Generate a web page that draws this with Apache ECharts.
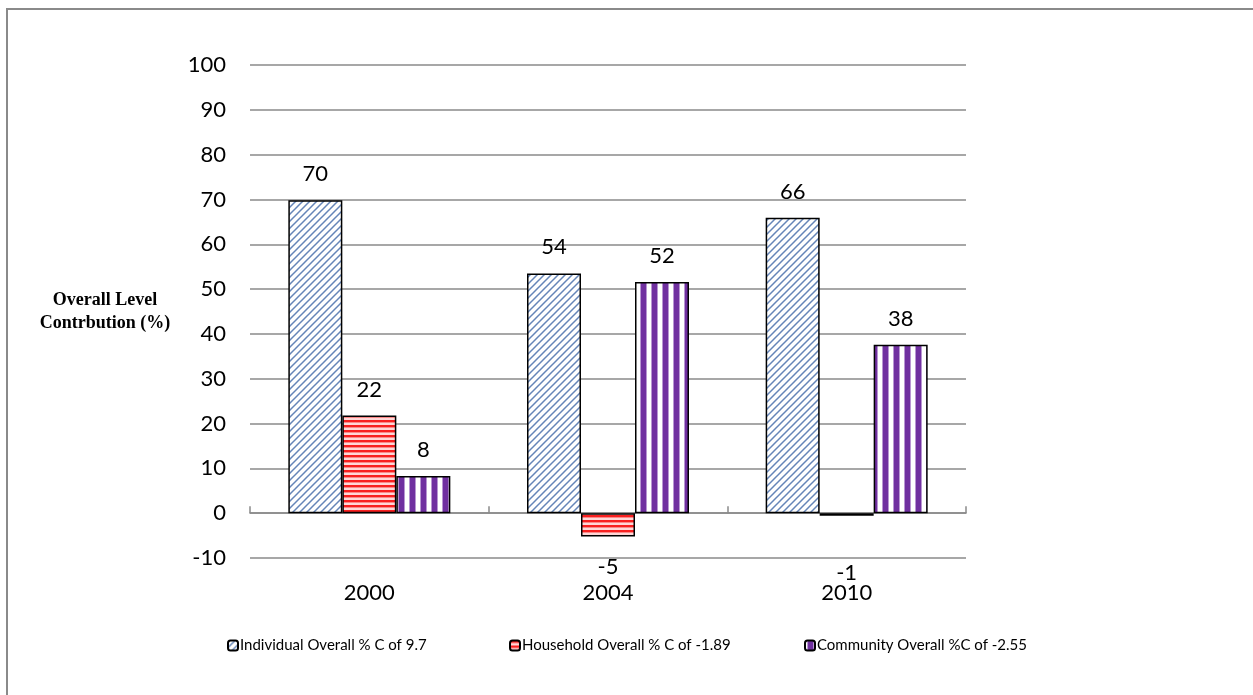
<!DOCTYPE html>
<html>
<head>
<meta charset="utf-8">
<script src="https://cdn.jsdelivr.net/npm/echarts@6/dist/echarts.min.js"></script>
<style>
  html, body { margin: 0; padding: 0; background: #ffffff; }
  #chart { width: 1253px; height: 695px; }
</style>
</head>
<body>
<div id="chart"></div>
<script>
// Survey years on the category axis
const years = ['2000', '2004', '2010'];

// Contribution (%) to the overall level by component
const individual = [69.8, 53.5, 65.9];
const household = [21.8, -5.2, -0.6];
const community = [8.3, 51.6, 37.6];

const seriesNames = [
  'Individual Overall % C of 9.7',
  'Household Overall % C of -1.89',
  'Community Overall %C of -2.55'
];

// Value axis ticks
const yTicks = [-10, 0, 10, 20, 30, 40, 50, 60, 70, 80, 90, 100];

// Fill textures: diagonal, horizontal and vertical stripes
function makeTile(w, h, draw) {
  const c = document.createElement('canvas');
  c.width = w; c.height = h;
  const ctx = c.getContext('2d');
  draw(ctx, w, h);
  return { image: c, repeat: 'repeat' };
}

const diagonalFill = makeTile(7, 7, function (ctx, s) {
  ctx.fillStyle = '#ffffff';
  ctx.fillRect(0, 0, s, s);
  ctx.strokeStyle = '#6585b8';
  ctx.lineWidth = 1.5;
  ctx.beginPath();
  ctx.moveTo(-1, 1); ctx.lineTo(1, -1);
  ctx.moveTo(0, s); ctx.lineTo(s, 0);
  ctx.moveTo(s - 1, s + 1); ctx.lineTo(s + 1, s - 1);
  ctx.stroke();
});

const horizontalFill = makeTile(4, 5, function (ctx, w, h) {
  ctx.fillStyle = '#ffd6d6';
  ctx.fillRect(0, 0, w, h);
  ctx.fillStyle = '#f82020';
  ctx.fillRect(0, 0, w, 2);
  ctx.fillStyle = '#fb8888';
  ctx.fillRect(0, 2, w, 1);
});

const verticalFill = makeTile(11, 4, function (ctx, w, h) {
  ctx.fillStyle = '#ffffff';
  ctx.fillRect(0, 0, w, h);
  ctx.fillStyle = '#b896d2';
  ctx.fillRect(2, 0, 1, h);
  ctx.fillRect(8, 0, 1, h);
  ctx.fillStyle = '#7030a0';
  ctx.fillRect(3, 0, 5, h);
});

const fills = [diagonalFill, horizontalFill, verticalFill];
const values = [individual, household, community];

const FONT = 'Lato, "Open Sans", sans-serif';
const GRID_COLOR = '#8a8a8a';

// Extra spacing for the small negative value's label
const labelDistance = { '1-2': 46 };

const series = values.map(function (vals, si) {
  return {
    name: seriesNames[si],
    type: 'bar',
    xAxisIndex: 0,
    yAxisIndex: 0,
    barWidth: 54,
    barGap: '0%',
    itemStyle: { color: fills[si], borderColor: '#000000', borderWidth: 1.5 },
    data: vals.map(function (v, ci) {
      const d = labelDistance[si + '-' + ci];
      return {
        value: v,
        label: {
          position: v < 0 ? 'bottom' : 'top',
          distance: d !== undefined ? d : (v < 0 ? 19 : 15)
        }
      };
    }),
    label: {
      show: true,
      fontFamily: FONT,
      fontSize: 22,
      color: '#000000',
      formatter: function (p) { return String(Math.round(p.value)); }
    }
  };
});

const legendLeft = [222, 504, 799];

const option = {
  backgroundColor: '#ffffff',
  animation: false,
  grid: { left: 250, right: 287, top: 65, bottom: 137 },
  legend: seriesNames.map(function (n, i) {
    return {
      data: [n],
      left: legendLeft[i],
      top: 633,
      itemWidth: 10,
      itemHeight: 10,
      itemGap: 0,
      textStyle: { fontFamily: FONT, fontSize: 15, color: '#000000', padding: [0, 0, 0, -3] },
      selectedMode: false
    };
  }),
  xAxis: [
    {
      type: 'category',
      data: years,
      position: 'bottom',
      axisLine: { show: false, onZero: false },
      axisTick: { show: false },
      axisLabel: { fontFamily: FONT, fontSize: 22, color: '#000000', margin: 24 }
    },
    {
      type: 'category',
      data: years,
      axisLine: { show: true, onZero: true, onZeroAxisIndex: 0, lineStyle: { color: GRID_COLOR, width: 1.5 } },
      axisTick: { show: true, length: 7, lineStyle: { color: GRID_COLOR, width: 1.5 } },
      axisLabel: { show: false }
    }
  ],
  yAxis: {
    type: 'value',
    min: yTicks[0],
    max: yTicks[yTicks.length - 1],
    interval: 10,
    axisLine: { show: false },
    axisTick: { show: false },
    axisLabel: { fontFamily: FONT, fontSize: 22, color: '#000000', margin: 24 },
    splitLine: { lineStyle: { color: GRID_COLOR, width: 1.5 } }
  },
  graphic: [
    {
      type: 'polyline',
      shape: { points: [[7, 800], [7, 9], [1400, 9]] },
      style: { stroke: '#8a8a8a', lineWidth: 2, fill: null },
      silent: true
    },
    {
      type: 'text',
      x: 105,
      y: 289,
      style: {
        text: 'Overall Level\nContrbution (%)',
        fontFamily: '"Liberation Serif", "Times New Roman", serif',
        fontWeight: 'bold',
        fontSize: 18,
        lineHeight: 23,
        fill: '#000000',
        align: 'center',
        verticalAlign: 'top'
      }
    }
  ],
  series: series
};

const chart = echarts.init(document.getElementById('chart'), null, { renderer: 'canvas' });
chart.setOption(option);
</script>
</body>
</html>
